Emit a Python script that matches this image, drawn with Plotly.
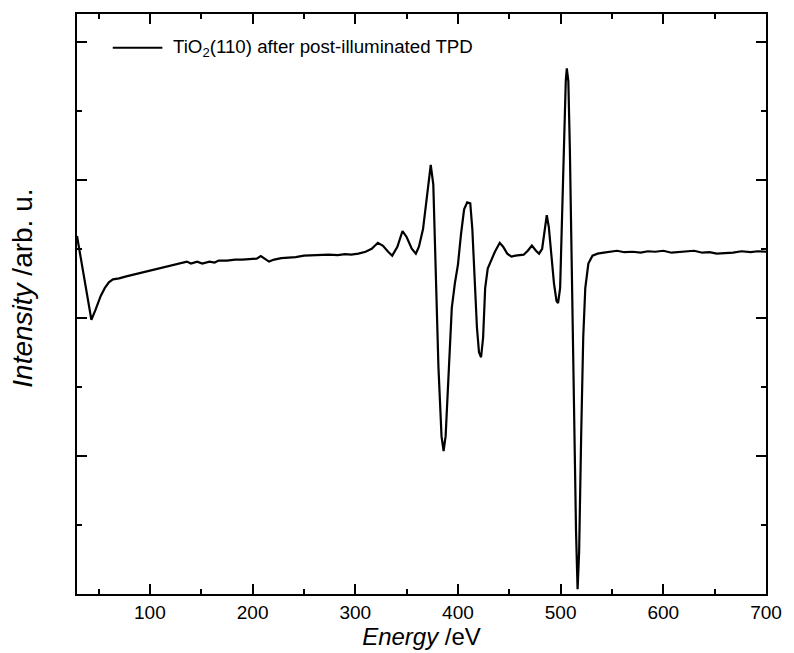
import plotly.graph_objects as go

energy = [29, 33, 38, 43, 47, 52, 56, 60, 64, 70, 77, 85, 93, 101, 109, 117, 124, 132, 136, 140, 146,
          151, 158, 163, 167, 175, 183, 190, 199, 204, 208, 212, 216, 221, 228, 235, 242, 250, 258, 266,
          274, 283, 290, 296, 303, 310, 316, 322, 327, 332, 336, 341, 346, 350, 355, 359, 362, 366,
          370, 373.5, 376, 378.5, 381, 384, 386, 388, 391, 394, 397, 400, 403, 406, 409, 412, 414,
          416, 418.5, 420.5, 422.5, 424.5, 426.5, 429, 432, 436, 440.7, 444, 448, 452, 456, 460,
          464, 468, 472, 476, 479, 482, 484, 486.5, 488.5, 491, 493.5, 496, 497.5, 499.5, 501, 503,
          505, 506, 507.5, 509, 511, 513, 515, 516.5, 518, 520, 522, 524, 527, 531, 536, 542, 548,
          555, 562, 570, 578, 585, 592, 600, 608, 615, 622, 630, 638, 645, 652, 660, 668, 676, 685,
          692, 700]

intensity = [1.186, 0.829, 0.357, -0.029, 0.114, 0.314, 0.429, 0.514, 0.557, 0.571, 0.600, 0.629,
             0.657, 0.686, 0.714, 0.743, 0.771, 0.800, 0.814, 0.786, 0.814, 0.786, 0.814, 0.800, 0.829, 0.829,
             0.843, 0.843, 0.850, 0.857, 0.893, 0.857, 0.814, 0.843, 0.864, 0.871, 0.879, 0.900,
             0.907, 0.907, 0.914, 0.907, 0.921, 0.914, 0.929, 0.957, 1.000, 1.086, 1.043, 0.957,
             0.900, 1.029, 1.257, 1.171, 1.000, 0.929, 1.029, 1.286, 1.786, 2.214, 1.929, 0.714,
             -0.714, -1.714, -1.929, -1.714, -0.714, 0.143, 0.500, 0.771, 1.214, 1.571, 1.671,
             1.657, 1.286, 0.643, -0.143, -0.500, -0.571, -0.286, 0.429, 0.714, 0.814, 0.957,
             1.086, 1.029, 0.929, 0.886, 0.900, 0.907, 0.914, 0.971, 1.047, 0.971, 0.929, 1.000,
             1.214, 1.486, 1.314, 0.929, 0.500, 0.243, 0.214, 0.429, 1.286, 2.571, 3.429, 3.614,
             3.429, 2.429, 0.571, -1.429, -3.100, -3.930, -3.400, -1.700, -0.286, 0.429, 0.786,
             0.900, 0.929, 0.943, 0.957, 0.971, 0.950, 0.957, 0.943, 0.964, 0.957, 0.971, 0.943,
             0.950, 0.957, 0.971, 0.943, 0.950, 0.929, 0.936, 0.943, 0.964, 0.950, 0.964, 0.957]

x_major = [100, 200, 300, 400, 500, 600, 700]
x_minor = [50, 150, 250, 350, 450, 550, 650]
y_major = [-4, -2, 0, 2, 4]
y_minor = [-3, -1, 1, 3]

legend_label = "TiO<sub>2</sub>(110) after post-illuminated TPD"
y_title = "<i>Intensity</i> /arb. u."
x_title = "<i>Energy</i> /eV"

FONT = "Liberation Sans, Arial, sans-serif"

fig = go.Figure()
fig.add_trace(go.Scatter(x=energy, y=intensity, mode="lines",
                         line=dict(color="black", width=2.2), showlegend=False))

axis_common = dict(showgrid=False, zeroline=False, showline=True, linecolor="black",
                   linewidth=1.5, mirror="ticks", ticks="inside", ticklen=10, tickwidth=1.5,
                   tickcolor="black")

fig.update_xaxes(range=[29, 700], tickvals=x_major, ticktext=[str(v) for v in x_major],
                 tickfont=dict(family=FONT, size=19, color="black"),
                 minor=dict(tickvals=x_minor, ticks="inside", ticklen=5, tickwidth=1.5,
                            tickcolor="black"),
                 title=dict(text=x_title, font=dict(family=FONT, size=24, color="black"),
                            standoff=2),
                 **axis_common)
fig.update_yaxes(range=[-4.0, 4.4], tickvals=y_major, showticklabels=False,
                 minor=dict(tickvals=y_minor, ticks="inside", ticklen=5, tickwidth=1.5,
                            tickcolor="black"),
                 **axis_common)

# y axis title (placed slightly below plot centre, as in the reference)
fig.add_annotation(xref="paper", yref="paper", x=-0.0793, y=0.527, xanchor="center",
                   yanchor="middle", textangle=-90, text=y_title, showarrow=False,
                   font=dict(family=FONT, size=28, color="black"))

# legend sample
fig.add_shape(type="line", xref="paper", yref="paper", x0=0.0519, x1=0.1239, y0=0.942, y1=0.942,
              line=dict(color="black", width=2))
fig.add_annotation(xref="paper", yref="paper", x=0.1369, y=0.942, xanchor="left", yanchor="middle",
                   text=legend_label, showarrow=False,
                   font=dict(family=FONT, size=18.7, color="black"))

fig.update_layout(width=794, height=653, plot_bgcolor="white", paper_bgcolor="white",
                  margin=dict(l=77, r=24, t=12, b=53), showlegend=False)

fig.write_html("out.html")
